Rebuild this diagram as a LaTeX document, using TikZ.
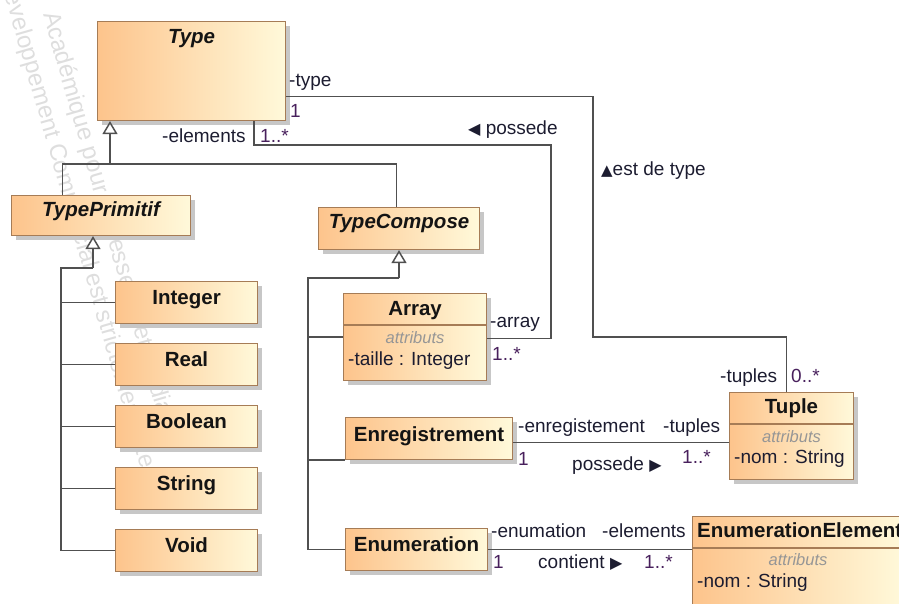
\documentclass[tikz,border=0pt]{standalone}
\usepackage{fontspec}
\setmainfont{Liberation Sans}
\newfontfamily\symfont{DejaVu Sans}
\usetikzlibrary{arrows.meta,shadows}

\definecolor{boxleft}{RGB}{253,196,140}
\definecolor{boxright}{RGB}{255,249,218}
\definecolor{boxedge}{RGB}{166,124,86}
\definecolor{wire}{RGB}{80,80,80}
\definecolor{mult}{RGB}{72,32,92}
\definecolor{role}{RGB}{28,28,48}
\definecolor{stereo}{RGB}{150,150,150}
\definecolor{wmark}{RGB}{222,222,222}

\newcommand{\ttlfont}{\fontsize{20.5}{24}\selectfont\bfseries}
\newcommand{\lblfont}{\fontsize{19}{22}\selectfont}
\newcommand{\attrfont}{\fontsize{16.5}{20}\selectfont\itshape}
\newcommand{\wmfont}{\fontsize{24}{28}\selectfont}
\newcommand{\symsize}{\symfont\fontsize{16}{19}\selectfont}

\tikzset{
  umlbox/.style={draw=boxedge, line width=1.1pt, left color=boxleft, right color=boxright,
    inner sep=0pt, anchor=north west,
    drop shadow={shadow xshift=4pt, shadow yshift=-4pt, fill=black!22, opacity=1}},
  divline/.style={draw=boxedge, line width=1.1pt},
  conn/.style={draw=wire, line width=1.5pt},
  gen/.style={conn, -{Triangle[width=15pt,length=13pt,fill=white]}},
  ttl/.style={font=\ttlfont, text=black!92, inner sep=0pt, anchor=base},
  lbl/.style={font=\lblfont, text=role, inner sep=0pt, anchor=base west},
  mul/.style={lbl, text=mult},
  attr/.style={font=\attrfont, text=stereo, inner sep=0pt, anchor=base},
  wm/.style={font=\wmfont, text=wmark, inner sep=0pt, anchor=base west, rotate=-74},
}

\begin{document}
\begin{tikzpicture}[x=1pt,y=-1pt]
\path[use as bounding box] (0,0) rectangle (899,603);
\clip (0,0) rectangle (899,603);

% faint licence watermark behind the diagram
\node[wm] (wmA) at (43,14) {Académique pour professeurs et étudiants};
\node[wm] (wmB) at (0,-22) {Développement Commercial est strictement interdit};

% classes
\node[umlbox, minimum width=188pt, minimum height=99pt] (type) at (97,21) {};
\node[umlbox, minimum width=179pt, minimum height=40pt] (tprim) at (11,195) {};
\node[umlbox, minimum width=161pt, minimum height=42pt] (tcomp) at (318,207) {};
\node[umlbox, minimum width=142pt, minimum height=42pt] (integer) at (115,281) {};
\node[umlbox, minimum width=142pt, minimum height=42pt] (real) at (115,343) {};
\node[umlbox, minimum width=142pt, minimum height=42pt] (boolean) at (115,405) {};
\node[umlbox, minimum width=142pt, minimum height=42pt] (string) at (115,467) {};
\node[umlbox, minimum width=142pt, minimum height=42pt] (void) at (115,529) {};
\node[umlbox, minimum width=143pt, minimum height=87pt] (array) at (343,293) {};
\node[umlbox, minimum width=167pt, minimum height=42pt] (enreg) at (345,417) {};
\node[umlbox, minimum width=142pt, minimum height=42pt] (enum) at (345,528) {};
\node[umlbox, minimum width=124pt, minimum height=87pt] (tuple) at (729,392) {};
\node[umlbox, minimum width=211pt, minimum height=88pt] (ee) at (692,516) {};

% compartment separators
\draw[divline] ([yshift=-32pt]array.north west) -- ([yshift=-32pt]array.north east);
\draw[divline] ([yshift=-32pt]tuple.north west) -- ([yshift=-32pt]tuple.north east);
\draw[divline] ([yshift=-32pt]ee.north west) -- ([yshift=-32pt]ee.north east);

% class names
\node[ttl] (typeT) at ([yshift=-22pt]type.north) {\itshape Type};
\node[ttl] (tprimT) at ([yshift=-21pt]tprim.north) {\itshape TypePrimitif};
\node[ttl] (tcompT) at ([yshift=-21pt]tcomp.north) {\itshape TypeCompose};
\node[ttl] (integerT) at ([yshift=-23pt]integer.north) {Integer};
\node[ttl] (realT) at ([yshift=-23pt]real.north) {Real};
\node[ttl] (booleanT) at ([yshift=-23pt]boolean.north) {Boolean};
\node[ttl] (stringT) at ([yshift=-23pt]string.north) {String};
\node[ttl] (voidT) at ([yshift=-23pt]void.north) {Void};
\node[ttl] (arrayT) at ([yshift=-22pt]array.north) {Array};
\node[ttl] (enregT) at ([yshift=-24pt]enreg.north) {Enregistrement};
\node[ttl] (enumT) at ([yshift=-23pt]enum.north) {Enumeration};
\node[ttl] (tupleT) at ([yshift=-21pt]tuple.north) {Tuple};
\node[ttl, anchor=base west] (eeT) at ([xshift=5pt,yshift=-21pt]ee.north west) {EnumerationElement};

% attribute compartments
\node[attr] (arrayS) at ([yshift=-50pt]array.north) {attributs};
\node[lbl] (arrayA) at ([xshift=5pt,yshift=-72pt]array.north west) {-taille : Integer};
\node[attr] (tupleS) at ([yshift=-50pt]tuple.north) {attributs};
\node[lbl] (tupleA) at ([xshift=5pt,yshift=-71pt]tuple.north west) {-nom : String};
\node[attr] (eeS) at ([yshift=-49pt]ee.north) {attributs};
\node[lbl] (eeA) at ([xshift=5pt,yshift=-71pt]ee.north west) {-nom : String};

% generalisation Type <- TypePrimitif, TypeCompose
\coordinate (gj) at (110,164);
\draw[gen] (gj) -- (gj |- type.south);
\draw[conn] ([xshift=-38.5pt]tprim.north) |- (gj) -| ([xshift=-2.5pt]tcomp.north);

% generalisation TypePrimitif <- primitive types
\coordinate (pj) at (93,268);
\coordinate (pt) at (61,268);
\draw[gen] (pj) -- (pj |- tprim.south);
\draw[conn] (pj) -- (pt) |- (void.west);
\draw[conn] (pt) |- (integer.west);
\draw[conn] (pt) |- (real.west);
\draw[conn] (pt) |- (boolean.west);
\draw[conn] (pt) |- (string.west);

% generalisation TypeCompose <- composite types
\coordinate (cj) at (399,278);
\coordinate (ct) at (308,278);
\draw[gen] (cj) -- (cj |- tcomp.south);
\draw[conn] (cj) -- (ct) |- (enum.west);
\draw[conn] (ct) |- (array.west);
\draw[conn] (ct) |- (enreg.south west);

% association Type -- Tuple (est de type)
\coordinate (bendA) at (593,337);
\draw[conn] ([yshift=-25.5pt]type.east) -| (bendA) -| ([xshift=-5pt]tuple.north);
\node[lbl] (typeRole) at (289,86) {-type};
\node[mul] (typeMul) at (290,117) {1};
\node[lbl] (estType) at (601,175) {{\symsize\fontsize{15}{18}\selectfont ▲}est de type};
\node[lbl] (tuplesRole) at (720,382) {-tuples};
\node[mul] (tuplesMul) at (791,382) {0..*};

% association Type -- Array (possede)
\coordinate (bendB) at (551,145);
\draw[conn] ([xshift=62.5pt]type.south) |- (bendB) |- ([yshift=-1.5pt]array.east);
\node[lbl] (elemRole) at (162,142) {-elements};
\node[mul] (elemMul) at (260,142) {1..*};
\node[lbl] (possA) at (468,134) {{\symsize ◀} possede};
\node[lbl] (arrayRole) at (490,327) {-array};
\node[mul] (arrayMul) at (492,360) {1..*};

% association Enregistrement -- Tuple
\coordinate (ea) at ([yshift=-4pt]enreg.east);
\draw[conn] (ea) -- (ea -| tuple.west);
\node[lbl] (enregRole) at (518,432) {-enregistement};
\node[mul] (enregMul) at (518,465) {1};
\node[lbl] (tuples2Role) at (663,432) {-tuples};
\node[mul] (tuples2Mul) at (682,463) {1..*};
\node[lbl] (possB) at (572,470) {possede {\symsize ▶}};

% association Enumeration -- EnumerationElement
\draw[conn] (enum.east) -- (enum.east -| ee.west);
\node[lbl] (enumRole) at (491,537) {-enumation};
\node[mul] (enumMul) at (493,568) {1};
\node[lbl] (eltRole) at (602,537) {-elements};
\node[mul] (eltMul) at (644,568) {1..*};
\node[lbl] (contient) at (538,568) {contient {\symsize ▶}};
\end{tikzpicture}
\end{document}
